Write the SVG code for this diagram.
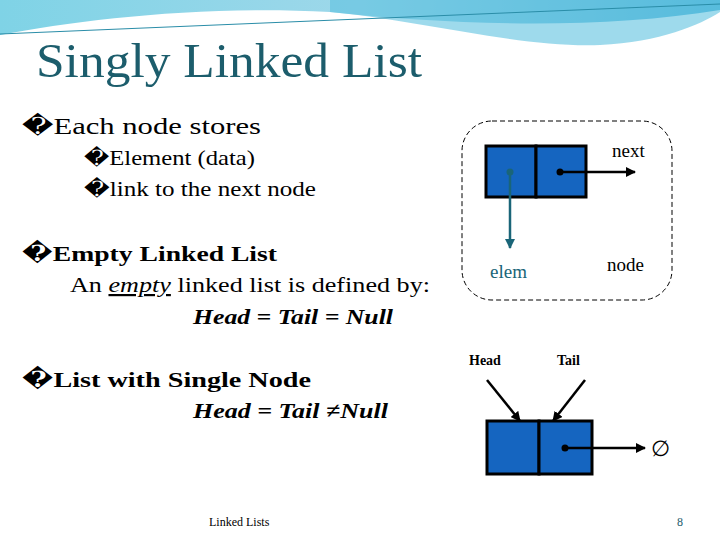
<svg xmlns="http://www.w3.org/2000/svg" width="720" height="540" viewBox="0 0 720 540">
<defs>
<style>
text{font-family:"Liberation Serif","DejaVu Serif","Times New Roman",serif;fill:#000}
.box{fill:#1565c0;stroke:#000;stroke-width:3}
.ln{stroke:#000;stroke-width:2.5;fill:none}
</style>
<marker id="a" viewBox="0 0 10 10" refX="9" refY="5" markerWidth="4" markerHeight="4" orient="auto"><path d="M0,0L10,5L0,10z" fill="#000"/></marker>
<marker id="at" viewBox="0 0 10 10" refX="9" refY="5" markerWidth="4" markerHeight="4" orient="auto"><path d="M0,0L10,5L0,10z" fill="#1a6578"/></marker>
<linearGradient id="g" x1="0" x2="1"><stop offset="0" stop-color="#7fd3e6"/><stop offset="0.5" stop-color="#9ed8ea"/><stop offset="1" stop-color="#4fb3d8"/></linearGradient>
</defs>
<rect width="720" height="540" fill="#fff"/>
<g id="header">
<path d="M0,0H720V10C600,30 450,25 330,12C200,5 80,20 0,35Z" fill="url(#g)"/>
<path d="M330,12C420,20 520,48 600,45C660,42 700,25 720,12V0H330Z" fill="#5ec2df" opacity="0.6"/>
<path d="M0,34L720,4" stroke="#2a8da8" stroke-width="1"/>
</g>
<text x="36" y="77" font-size="48" textLength="386" lengthAdjust="spacingAndGlyphs" style="fill:#1c5d6c">Singly Linked List</text>
<text x="22" y="134" font-size="23" textLength="239" lengthAdjust="spacingAndGlyphs">�Each node stores</text>
<text x="84" y="165" font-size="21" textLength="171" lengthAdjust="spacingAndGlyphs">�Element (data)</text>
<text x="84" y="196" font-size="21" textLength="232" lengthAdjust="spacingAndGlyphs">�link to the next node</text>
<text x="22" y="261" font-size="22" font-weight="bold" textLength="255" lengthAdjust="spacingAndGlyphs">�Empty Linked List</text>
<text x="70" y="292" font-size="22" textLength="360" lengthAdjust="spacingAndGlyphs">An <tspan font-style="italic" text-decoration="underline">empty</tspan> linked list is defined  by:</text>
<text x="193" y="324" font-size="22" font-weight="bold" font-style="italic" textLength="200" lengthAdjust="spacingAndGlyphs">Head = Tail = Null</text>
<text x="22" y="387" font-size="22" font-weight="bold" textLength="289" lengthAdjust="spacingAndGlyphs">�List with Single Node</text>
<text x="193" y="418" font-size="22" font-weight="bold" font-style="italic" textLength="195" lengthAdjust="spacingAndGlyphs">Head = Tail ≠Null</text>
<g id="node-diagram">
<rect x="462" y="121" width="210" height="179" rx="30" fill="none" stroke="#000" stroke-dasharray="5,3"/>
<rect class="box" x="486" y="146" width="50" height="51"/>
<rect class="box" x="536" y="146" width="50" height="51"/>
<circle cx="510" cy="172" r="3.5" fill="#1a6578"/>
<line x1="510" y1="172" x2="510" y2="248" stroke="#1a6578" stroke-width="2.5" marker-end="url(#at)"/>
<circle cx="560" cy="172" r="3.5" fill="#000"/>
<text x="612" y="157" font-size="19">next</text>
<text x="490" y="278" font-size="19" style="fill:#1a6578">elem</text>
<text x="607" y="271" font-size="19">node</text>
</g>
<g id="single-node">
<rect class="box" x="487" y="421" width="52" height="53"/>
<rect class="box" x="539" y="421" width="53" height="53"/>
<circle cx="565" cy="448" r="3.5" fill="#000"/>
<text x="469" y="365" font-size="14" font-weight="bold">Head</text>
<text x="557" y="365" font-size="14" font-weight="bold">Tail</text>
<text x="651" y="456" font-size="22">∅</text>
</g>
<g id="connectors">
<line class="ln" x1="560" y1="172" x2="635" y2="172" marker-end="url(#a)"/>
<line class="ln" x1="487" y1="380" x2="520" y2="421" stroke-width="1.8" marker-end="url(#a)"/>
<line class="ln" x1="585" y1="380" x2="553" y2="421" stroke-width="1.8" marker-end="url(#a)"/>
<line class="ln" x1="565" y1="448" x2="645" y2="448" marker-end="url(#a)"/>
</g>
<text x="209" y="526" font-size="12">Linked Lists</text>
<text x="677" y="526" font-size="12" style="fill:#1c5d6c">8</text>
</svg>
